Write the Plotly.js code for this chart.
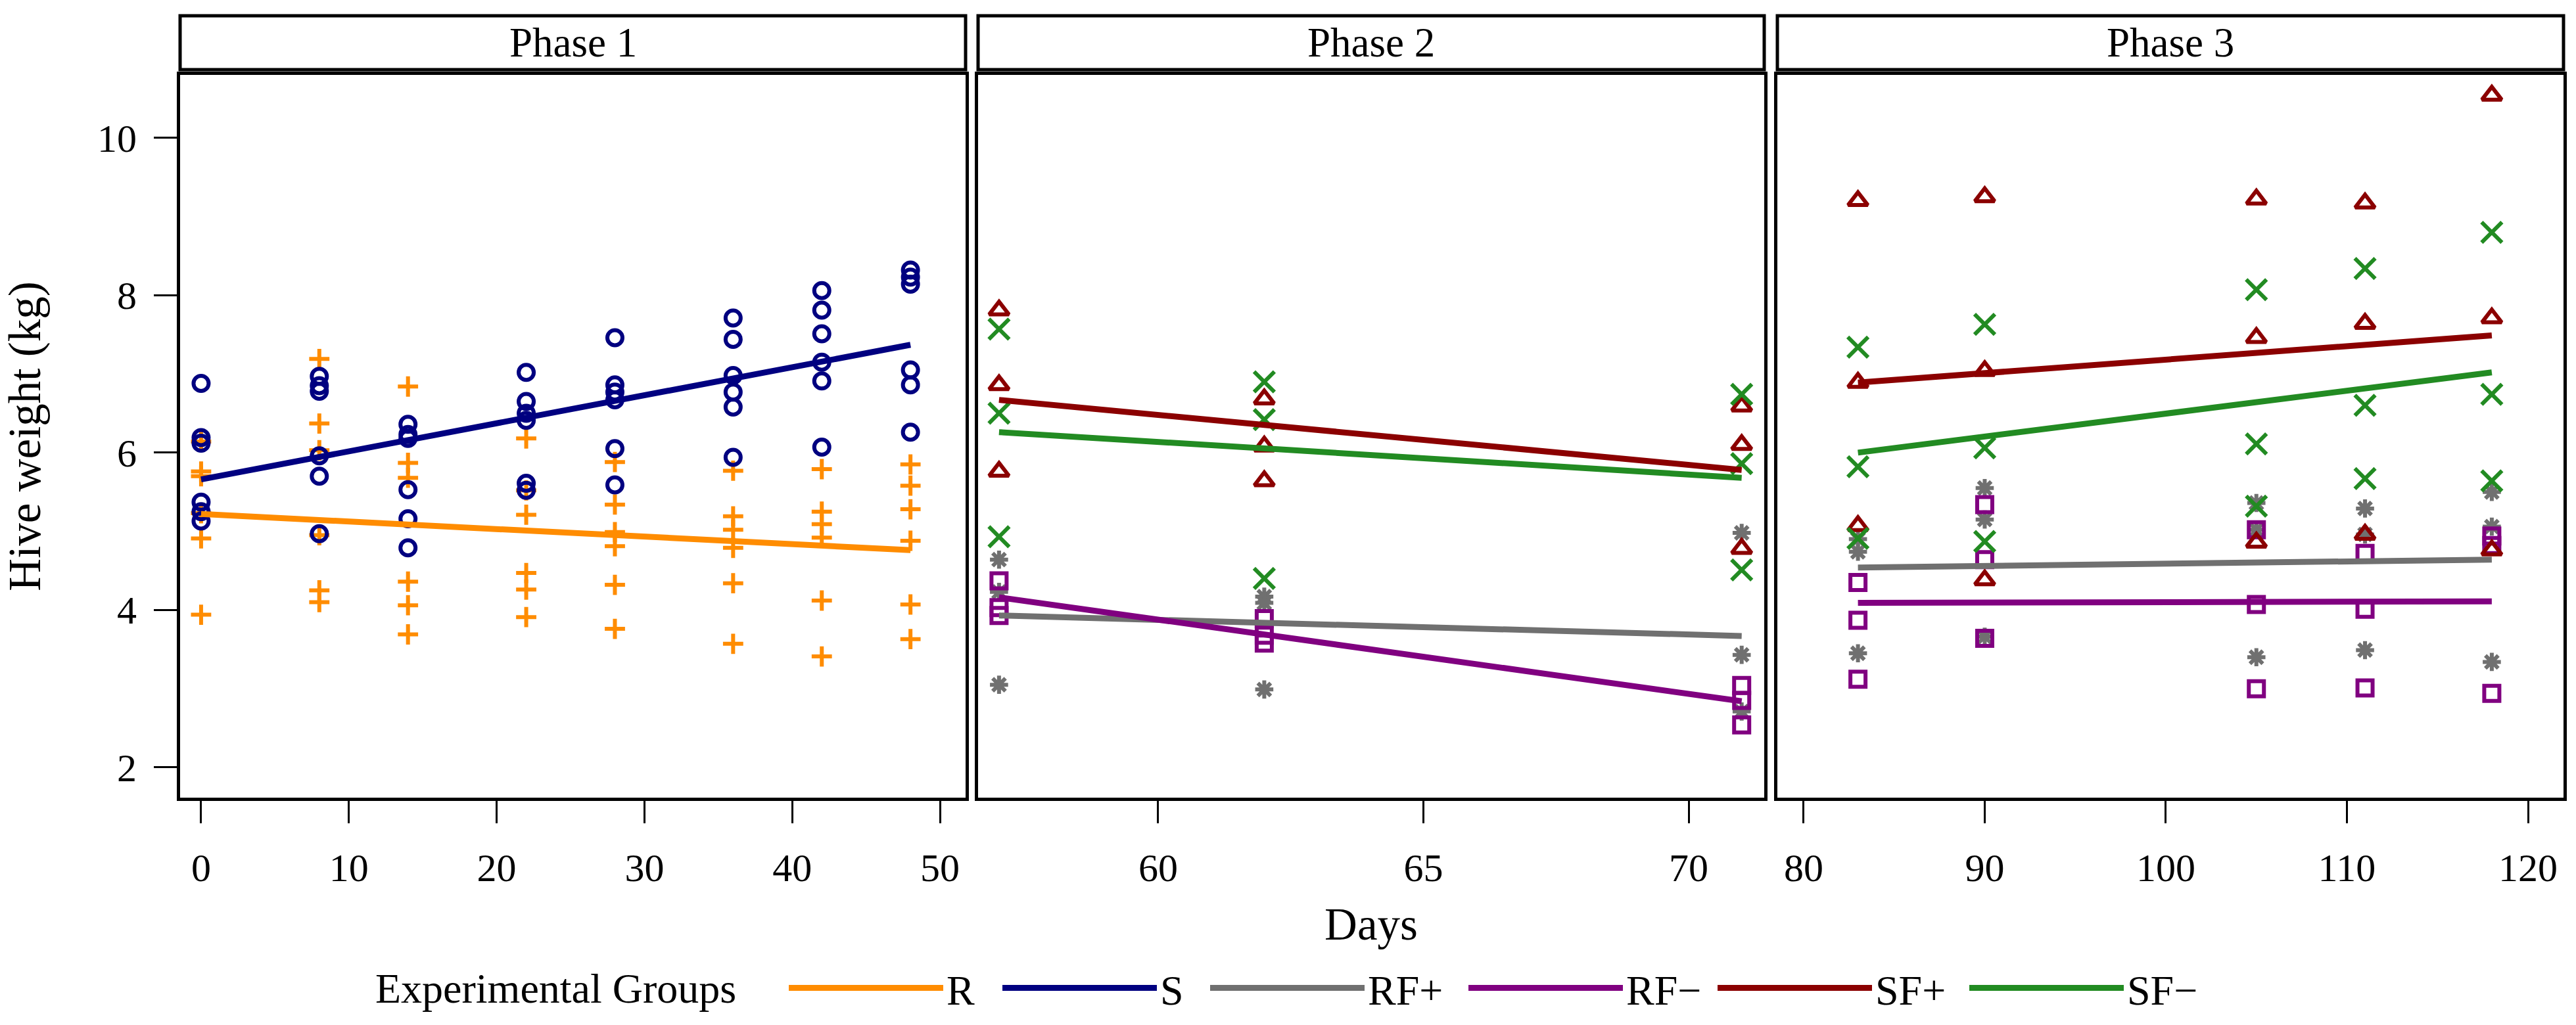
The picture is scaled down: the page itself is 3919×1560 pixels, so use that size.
<!DOCTYPE html>
<html><head><meta charset="utf-8">
<script src="https://cdn.plot.ly/plotly-3.0.1.min.js"></script>
<style>html,body{margin:0;padding:0;background:#fff}</style>
</head><body>
<div id="chart" style="width:3919px;height:1560px"></div>
<script>
// ---------- data ----------
const phaseNames = ['Phase 1', 'Phase 2', 'Phase 3'];
const phase1Days = [0, 8, 14, 22, 28, 36, 42, 48];
const phase2Days = [57, 62, 71];
const phase3Days = [83, 90, 105, 111, 118];

const xTicks1 = [0, 10, 20, 30, 40, 50];
const xTicks2 = [60, 65, 70];
const xTicks3 = [80, 90, 100, 110, 120];
const yTicks = [2, 4, 6, 8, 10];

const groupNames = ['R', 'S', 'RF+', 'RF−', 'SF+', 'SF−'];
const legendTitle = 'Experimental Groups';

// Phase 1 hive weights (kg), one inner list per day
const R_p1 = [
  [6.14, 5.76, 5.70, 5.23, 4.91, 3.94],
  [7.19, 6.37, 6.03, 4.95, 4.25, 4.10],
  [6.84, 5.87, 5.68, 4.36, 4.06, 3.69],
  [6.18, 5.52, 5.21, 4.47, 4.26, 3.91],
  [5.88, 5.34, 4.99, 4.81, 4.32, 3.76],
  [5.77, 5.19, 5.02, 4.79, 4.34, 3.57],
  [5.79, 5.25, 5.09, 4.92, 4.12, 3.41],
  [5.85, 5.58, 5.28, 4.88, 4.07, 3.63]
];
const S_p1 = [
  [6.88, 6.19, 6.12, 5.37, 5.25, 5.13],
  [6.97, 6.85, 6.78, 5.96, 5.70, 4.97],
  [6.36, 6.23, 6.18, 5.53, 5.16, 4.79],
  [7.02, 6.65, 6.50, 6.41, 5.61, 5.52],
  [7.46, 6.86, 6.77, 6.67, 6.05, 5.59],
  [7.71, 7.44, 6.98, 6.77, 6.58, 5.94],
  [8.06, 7.81, 7.51, 7.15, 6.91, 6.07],
  [8.32, 8.23, 8.14, 7.05, 6.86, 6.26]
];
// Phase 2
const RFp_p2 = [[4.64, 4.23, 3.05], [4.17, 4.09, 2.99], [4.98, 3.43, 2.71]];
const RFm_p2 = [[4.37, 4.03, 3.93], [3.89, 3.68, 3.58], [3.04, 2.85, 2.54]];
const SFp_p2 = [[7.81, 6.86, 5.76], [6.68, 6.08, 5.64], [6.59, 6.10, 4.78]];
const SFm_p2 = [[7.57, 6.50, 4.93], [6.90, 6.42, 4.40], [6.74, 5.86, 4.51]];
// Phase 3
const RFp_p3 = [[4.90, 4.74, 3.45], [5.55, 5.15, 3.66], [5.36, 5.02, 3.40], [5.29, 4.96, 3.49], [5.50, 5.06, 3.34]];
const RFm_p3 = [[4.35, 3.87, 3.12], [5.34, 4.64, 3.64], [5.02, 4.07, 3.00], [4.72, 4.01, 3.01], [4.94, 4.82, 2.94]];
const SFp_p3 = [[9.20, 6.89, 5.07], [9.25, 7.04, 4.38], [9.22, 7.46, 4.86], [9.17, 7.64, 4.96], [10.54, 7.71, 4.76]];
const SFm_p3 = [[7.34, 5.82, 4.91], [7.63, 6.06, 4.87], [8.07, 6.11, 5.32], [8.34, 6.60, 5.67], [8.80, 6.74, 5.64]];

// fitted regression lines: value at first and last day of each phase
const fitR_p1 = [5.22, 4.76];
const fitS_p1 = [5.66, 7.37];
const fitRFp_p2 = [3.93, 3.67];
const fitRFm_p2 = [4.16, 2.84];
const fitSFp_p2 = [6.67, 5.78];
const fitSFm_p2 = [6.26, 5.68];
const fitRFp_p3 = [4.54, 4.64];
const fitRFm_p3 = [4.09, 4.11];
const fitSFp_p3 = [6.89, 7.49];
const fitSFm_p3 = [6.00, 7.02];

// ---------- styling ----------
const FONT = 'Liberation Serif, Times New Roman, serif';
const groups = {
  'R':   {color: '#FF8C00', symbol: 'cross-thin-open', size: 22, legend: 'legend',  lx: 1200},
  'S':   {color: '#000080', symbol: 'circle-open', size: 23, legend: 'legend2', lx: 1525},
  'RF+': {color: '#707070', symbol: 'asterisk-open', size: 23, legend: 'legend3', lx: 1841},
  'RF−': {color: '#800080', symbol: 'square-open', size: 23, legend: 'legend4', lx: 2234},
  'SF+': {color: '#8B0000', symbol: 'triangle-up-open', size: 26, legend: 'legend5', lx: 2613},
  'SF−': {color: '#228B22', symbol: 'x-thin-open', size: 31, legend: 'legend6', lx: 2996}
};

function expand(days, vals) {
  const x = [], y = [];
  days.forEach((d, i) => vals[i].forEach(v => { x.push(d); y.push(v); }));
  return {x, y};
}
function pts(name, days, vals, ax) {
  const g = groups[name], e = expand(days, vals);
  return {type: 'scatter', mode: 'markers', x: e.x, y: e.y, xaxis: ax[0], yaxis: ax[1],
    name: name, legendgroup: name, legend: g.legend, showlegend: false, hoverinfo: 'skip',
    marker: {symbol: g.symbol, size: g.size, color: g.color, line: {color: g.color, width: 6}}};
}
function fit(name, days, ends, ax, show) {
  const g = groups[name];
  return {type: 'scatter', mode: 'lines', x: [days[0], days[days.length - 1]], y: ends,
    xaxis: ax[0], yaxis: ax[1], name: name, legendgroup: name, legend: g.legend, showlegend: show,
    hoverinfo: 'skip', line: {color: g.color, width: 9}};
}
const A1 = ['x', 'y'], A2 = ['x2', 'y2'], A3 = ['x3', 'y3'];

const traces = [
  pts('R', phase1Days, R_p1, A1),
  pts('S', phase1Days, S_p1, A1),
  pts('RF+', phase2Days, RFp_p2, A2),
  pts('RF−', phase2Days, RFm_p2, A2),
  pts('SF+', phase2Days, SFp_p2, A2),
  pts('SF−', phase2Days, SFm_p2, A2),
  pts('RF+', phase3Days, RFp_p3, A3),
  pts('RF−', phase3Days, RFm_p3, A3),
  pts('SF+', phase3Days, SFp_p3, A3),
  pts('SF−', phase3Days, SFm_p3, A3),
  fit('R', phase1Days, fitR_p1, A1, true),
  fit('S', phase1Days, fitS_p1, A1, true),
  fit('RF+', phase2Days, fitRFp_p2, A2, true),
  fit('RF−', phase2Days, fitRFm_p2, A2, true),
  fit('SF+', phase2Days, fitSFp_p2, A2, true),
  fit('SF−', phase2Days, fitSFm_p2, A2, true),
  fit('RF+', phase3Days, fitRFp_p3, A3, false),
  fit('RF−', phase3Days, fitRFm_p3, A3, false),
  fit('SF+', phase3Days, fitSFp_p3, A3, false),
  fit('SF−', phase3Days, fitSFm_p3, A3, false)
];

// ---------- layout ----------
const W = 3919, H = 1560;
const px = v => v / W, py = v => 1 - v / H;
const doms = [[274, 1469], [1488, 2684], [2704, 3900]];
const yDom = [py(1214), py(114)];
const LEG_Y = 1504;

function xAxis(i, range, ticks, anchor) {
  return {domain: [px(doms[i][0]), px(doms[i][1])], range: range, anchor: anchor,
    tickmode: 'array', tickvals: ticks, ticktext: ticks.map(String),
    ticks: 'outside', ticklen: 34, tickwidth: 3, tickcolor: '#000', ticklabelstandoff: 16,
    showline: true, mirror: true, linewidth: 5, linecolor: '#000',
    showgrid: false, zeroline: false,
    tickfont: {family: FONT, size: 60, color: '#000'}};
}
function yAxis(i, anchor, labels) {
  return {domain: yDom, range: [1.615, 10.80], anchor: anchor,
    tickmode: 'array', tickvals: yTicks, ticktext: yTicks.map(String),
    ticks: labels ? 'outside' : '', ticklen: 35, tickwidth: 3, tickcolor: '#000',
    showticklabels: labels, ticklabelstandoff: 14,
    showline: true, mirror: true, linewidth: 5, linecolor: '#000',
    showgrid: false, zeroline: false,
    tickfont: {family: FONT, size: 60, color: '#000'}};
}
function legendAt(name) {
  return {orientation: 'h', x: px(groups[name].lx - 5), xanchor: 'left', y: py(LEG_Y), yanchor: 'middle',
    itemwidth: 235, font: {family: FONT, size: 64, color: '#000'},
    bgcolor: 'rgba(0,0,0,0)', borderwidth: 0};
}

const layout = {
  width: W, height: H,
  margin: {l: 0, r: 0, t: 0, b: 0},
  paper_bgcolor: '#fff', plot_bgcolor: '#fff',
  font: {family: FONT, color: '#000'},
  xaxis: xAxis(0, [-1.42, 51.73], xTicks1, 'y'),
  xaxis2: Object.assign(xAxis(1, [56.605, 71.425], xTicks2, 'y2'),
    {title: {text: 'Days', font: {family: FONT, size: 69, color: '#000'}, standoff: 30}}),
  xaxis3: xAxis(2, [78.55, 121.96], xTicks3, 'y3'),
  yaxis: Object.assign(yAxis(0, 'x', true),
    {title: {text: 'Hive weight (kg)', font: {family: FONT, size: 69, color: '#000'}, standoff: 68}}),
  yaxis2: yAxis(1, 'x2', false),
  yaxis3: yAxis(2, 'x3', false),
  showlegend: true,
  legend: legendAt('R'),
  legend2: legendAt('S'),
  legend3: legendAt('RF+'),
  legend4: legendAt('RF−'),
  legend5: legendAt('SF+'),
  legend6: legendAt('SF−'),
  shapes: doms.map(d => ({type: 'rect', xref: 'paper', yref: 'paper',
    x0: px(d[0]), x1: px(d[1]), y0: py(106), y1: py(24),
    line: {color: '#000', width: 5}, fillcolor: 'rgba(0,0,0,0)'})),
  annotations: doms.map((d, i) => ({xref: 'paper', yref: 'paper',
    x: px((d[0] + d[1]) / 2), y: py(65), xanchor: 'center', yanchor: 'middle',
    text: phaseNames[i], showarrow: false,
    font: {family: FONT, size: 63, color: '#000'}})).concat([{
    xref: 'paper', yref: 'paper', x: px(569), y: py(LEG_Y), xanchor: 'left', yanchor: 'middle',
    text: legendTitle, showarrow: false, font: {family: FONT, size: 64, color: '#000'}}])
};

Plotly.newPlot('chart', traces, layout, {staticPlot: true, displayModeBar: false});
</script>
</body></html>
